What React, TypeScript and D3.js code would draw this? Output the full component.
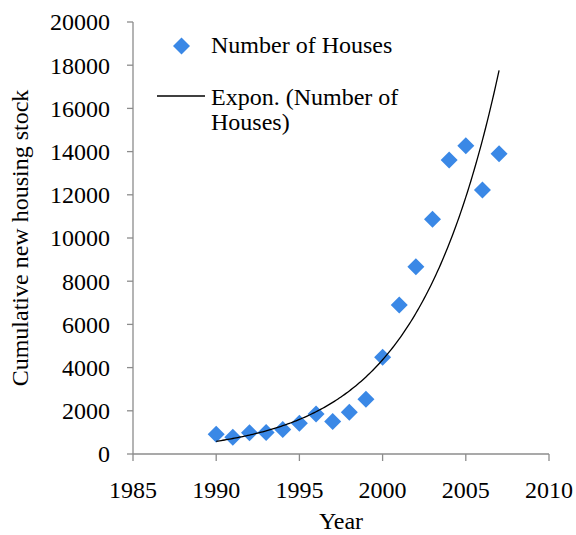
import * as d3 from 'd3';

const years = [1990, 1991, 1992, 1993, 1994, 1995, 1996, 1997, 1998, 1999, 2000, 2001, 2002, 2003, 2004, 2005, 2006, 2007];
const houses = [910, 770, 985, 1000, 1140, 1420, 1850, 1500, 1930, 2530, 4475, 6900, 8670, 10865, 13610, 14270, 12220, 13900];
const xTicks = [1985, 1990, 1995, 2000, 2005, 2010];
const yTicks = [0, 2000, 4000, 6000, 8000, 10000, 12000, 14000, 16000, 18000, 20000];

const W = 576, H = 535;
const PAD = { l: 133, r: 27, t: 22, b: 81 };
const FONT = '"Liberation Serif", "Times New Roman", serif';
const BLUE = '#3a88e6';
const AXIS = '#8c8c8c';

// Excel style exponential trend: least squares on ln(y)
function expFit(xs: number[], ys: number[]) {
  const x0 = xs[0];
  const dx = xs.map(v => v - x0);
  const ly = ys.map(v => Math.log(v));
  const mx = d3.mean(dx)!, my = d3.mean(ly)!;
  const sxy = d3.sum(dx, (v, i) => (v - mx) * (ly[i] - my));
  const sxx = d3.sum(dx, v => (v - mx) ** 2);
  const b = sxy / sxx;
  const a = Math.exp(my - b * mx);
  return (x: number) => a * Math.exp(b * (x - x0));
}

const Diamond = ({ cx, cy, r }: { cx: number; cy: number; r: number }) => (
  <path d={`M${cx},${cy - r}L${cx + r},${cy}L${cx},${cy + r}L${cx - r},${cy}Z`} fill={BLUE} />
);

export default function App() {
  const x = d3.scaleLinear().domain([1985, 2010]).range([PAD.l, W - PAD.r]);
  const y = d3.scaleLinear().domain([0, 20000]).range([H - PAD.b, PAD.t]);

  const trend = expFit(years, houses);
  const trendPts = d3.range(years[0], years[years.length - 1] + 0.001, 0.1).map(t => [t, trend(t)] as [number, number]);
  const line = d3.line<[number, number]>().x(d => x(d[0])).y(d => y(d[1]))(trendPts) ?? '';

  const x0 = x(1985), yBase = y(0);

  return (
    <svg width={W} height={H} style={{ position: 'absolute', left: 0, top: 0, background: '#fff' }} fontFamily={FONT} fontSize={24}>
      {/* axes */}
      <line x1={x0} x2={x0} y1={y(20000)} y2={yBase} stroke={AXIS} strokeWidth={1.3} />
      <line x1={x0} x2={x(2010)} y1={yBase} y2={yBase} stroke={AXIS} strokeWidth={1.3} />
      {yTicks.map(t => (
        <g key={t}>
          <line x1={x0 - 6} x2={x0} y1={y(t)} y2={y(t)} stroke={AXIS} strokeWidth={1.3} />
          <text x={x0 - 23} y={y(t)} dy="0.35em" textAnchor="end" fill="#000">{t}</text>
        </g>
      ))}
      {xTicks.map(t => (
        <g key={t}>
          <line x1={x(t)} x2={x(t)} y1={yBase} y2={yBase + 7} stroke={AXIS} strokeWidth={1.3} />
          <text x={x(t)} y={yBase + 44} textAnchor="middle" fill="#000">{t}</text>
        </g>
      ))}

      {/* axis titles */}
      <text x={341} y={529} textAnchor="middle" fill="#000">Year</text>
      <text transform="translate(28,238) rotate(-90)" textAnchor="middle" fill="#000">Cumulative new housing stock</text>

      {/* data */}
      {years.map((yr, i) => (
        <Diamond key={yr} cx={x(yr)} cy={y(houses[i])} r={8.5} />
      ))}
      <path d={line} fill="none" stroke="#000" strokeWidth={1.3} />

      {/* legend */}
      <Diamond cx={181.5} cy={46} r={8.5} />
      <text x={211} y={53} fill="#000">Number of Houses</text>
      <line x1={157} x2={205} y1={96} y2={96} stroke="#000" strokeWidth={1.3} />
      <text x={211} y={105} fill="#000">Expon. (Number of</text>
      <text x={211} y={130} fill="#000">Houses)</text>
    </svg>
  );
}
